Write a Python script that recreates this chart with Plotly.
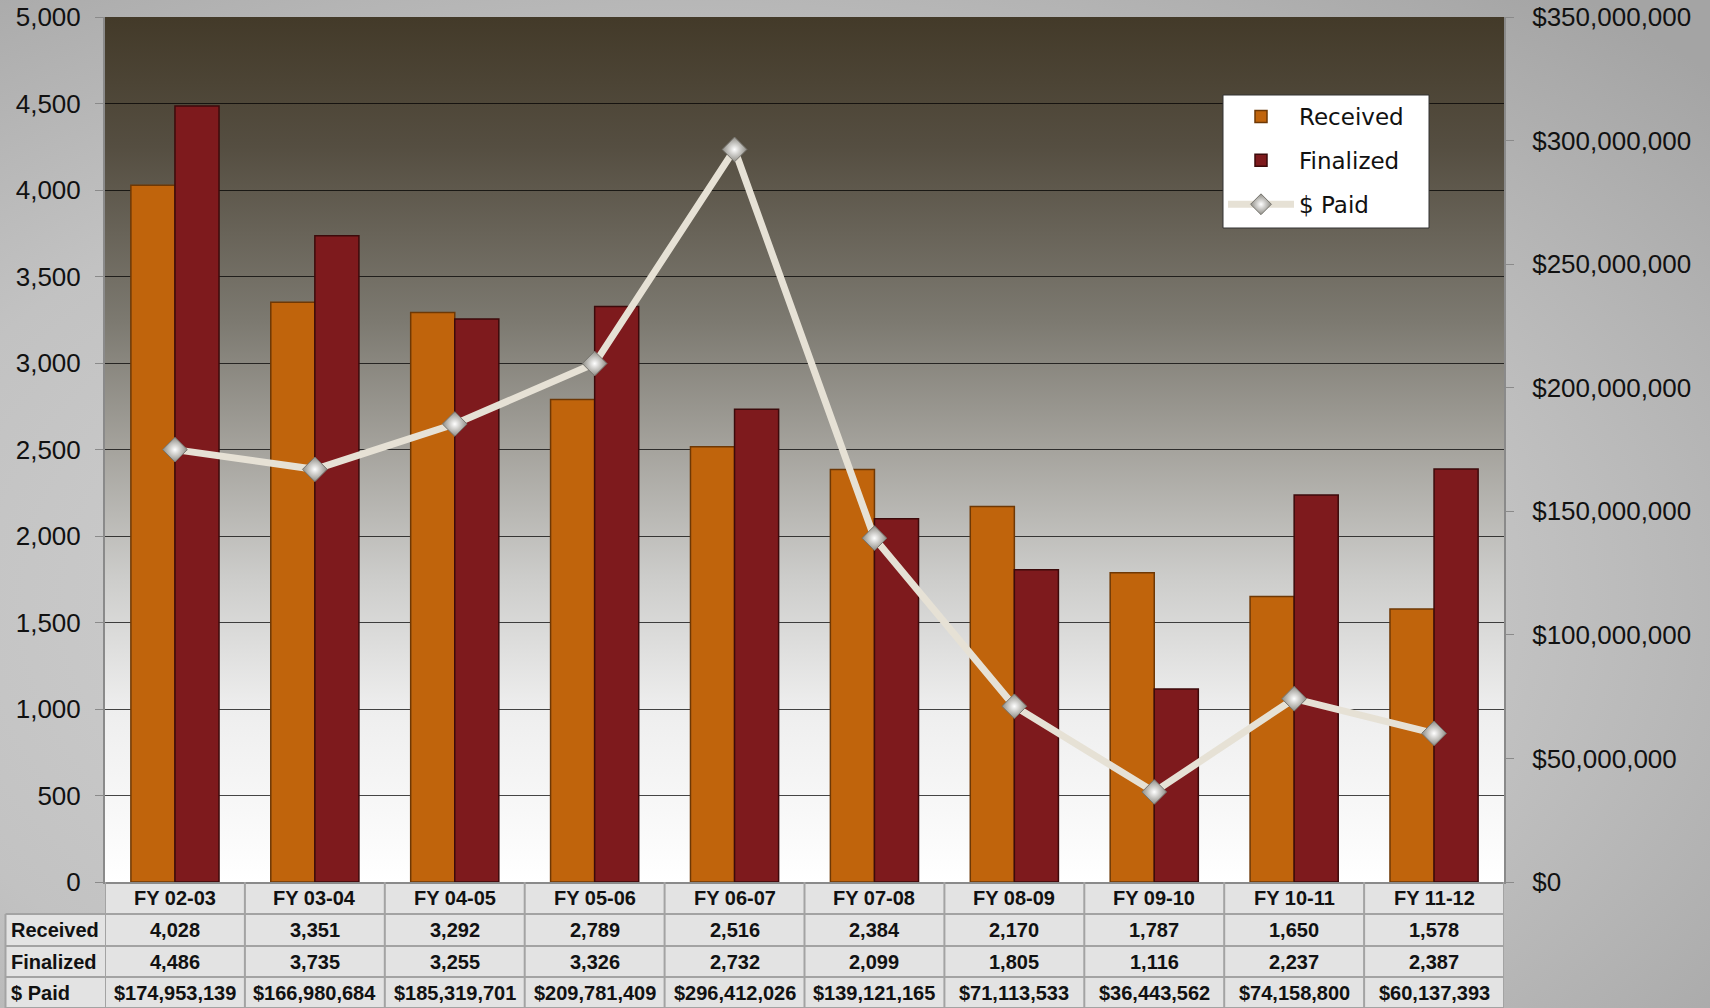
import base64
import plotly.graph_objects as go

categories = ["FY 02-03", "FY 03-04", "FY 04-05", "FY 05-06", "FY 06-07",
              "FY 07-08", "FY 08-09", "FY 09-10", "FY 10-11", "FY 11-12"]
received = [4028, 3351, 3292, 2789, 2516, 2384, 2170, 1787, 1650, 1578]
finalized = [4486, 3735, 3255, 3326, 2732, 2099, 1805, 1116, 2237, 2387]
paid = [174953139, 166980684, 185319701, 209781409, 296412026,
        139121165, 71113533, 36443562, 74158800, 60137393]
row_labels = ["Received", "Finalized", "$ Paid"]

W, H = 1710, 1008
# plot area in pixels (left, right, top, bottom)
PL, PR, PT, PB = 105, 1504, 17, 882
TL = 5.5                              # left edge of the data table
ROWS = [882, 914, 946, 977, 1008]     # table row boundaries (px)
LEG = (1223, 1429, 95, 228)           # legend box (px)


def px(x):
    return x / W


def py(y):
    return 1 - y / H


def svg_uri(svg):
    return "data:image/svg+xml;base64," + base64.b64encode(svg.encode()).decode()


page_bg = svg_uri(
    '<svg xmlns="http://www.w3.org/2000/svg" width="100" height="100" viewBox="0 0 100 100" preserveAspectRatio="none">'
    '<defs><radialGradient id="g" cx="0.4" cy="0.6" r="0.8">'
    '<stop offset="0" stop-color="#d6d6d6"/><stop offset="0.6" stop-color="#c2c2c2"/>'
    '<stop offset="1" stop-color="#a4a4a4"/></radialGradient></defs>'
    '<rect width="100" height="100" fill="url(#g)"/></svg>')

plot_bg = svg_uri(
    '<svg xmlns="http://www.w3.org/2000/svg" width="100" height="100" viewBox="0 0 100 100" preserveAspectRatio="none">'
    '<defs><linearGradient id="g" x1="0" y1="0" x2="0" y2="1">'
    '<stop offset="0" stop-color="#433a29"/><stop offset="0.15" stop-color="#554e41"/>'
    '<stop offset="0.35" stop-color="#7c7970"/><stop offset="0.5" stop-color="#a5a39d"/>'
    '<stop offset="0.65" stop-color="#cdcdcb"/><stop offset="0.8" stop-color="#eeeeee"/>'
    '<stop offset="1" stop-color="#ffffff"/></linearGradient></defs>'
    '<rect width="100" height="100" fill="url(#g)"/></svg>')

fig = go.Figure()

fig.add_trace(go.Bar(
    x=categories, y=received, name="Received", legendgroup="a",
    marker=dict(color="#c0640c", line=dict(color="#6e3805", width=1.5)),
))
fig.add_trace(go.Bar(
    x=categories, y=finalized, name="Finalized", legendgroup="b",
    marker=dict(color="#7e1a1d", line=dict(color="#3c0a0b", width=1.5)),
))
fig.add_trace(go.Scatter(
    x=categories, y=paid, name="$ Paid", yaxis="y2", legendgroup="c",
    mode="lines+markers",
    line=dict(color="#e6e1d5", width=7),
    marker=dict(symbol="diamond", size=19, color="#8e8c85",
                gradient=dict(type="radial", color="#ffffff"),
                line=dict(color="#77756f", width=1)),
))

# data table under the chart: cell fills and grid lines
grid = "#a3a3a3"
cell = "#e3e3e3"
shapes = [
    dict(type="rect", xref="paper", yref="paper", layer="below",
         x0=px(PL), x1=px(PR), y0=py(ROWS[0]), y1=py(ROWS[1]),
         fillcolor=cell, line=dict(width=0)),
    dict(type="rect", xref="paper", yref="paper", layer="below",
         x0=px(TL), x1=px(PR), y0=py(ROWS[1]), y1=py(ROWS[-1]),
         fillcolor=cell, line=dict(width=0)),
    dict(type="line", xref="paper", yref="paper", x0=px(TL), x1=px(TL),
         y0=py(ROWS[1]), y1=py(ROWS[-1]), line=dict(color=grid, width=2)),
    # legend box
    dict(type="rect", xref="paper", yref="paper", layer="above",
         x0=px(LEG[0]), x1=px(LEG[1]), y0=py(LEG[3]), y1=py(LEG[2]),
         fillcolor="#ffffff", line=dict(color="#333333", width=1)),
]
for r in ROWS[1:]:
    shapes.append(dict(type="line", xref="paper", yref="paper",
                       x0=px(TL), x1=px(PR), y0=py(r), y1=py(r),
                       line=dict(color=grid, width=2)))
n = len(categories)
for k in range(n + 1):
    shapes.append(dict(type="line", xref="x", yref="paper",
                       x0=k - 0.5, x1=k - 0.5, y0=py(ROWS[0]), y1=py(ROWS[-1]),
                       line=dict(color=grid, width=2)))

cellfont = dict(family="Liberation Sans, Arial", size=20, color="#111111")
annotations = []
for i, c in enumerate(categories):
    cols = [c, f"{received[i]:,}", f"{finalized[i]:,}", f"${paid[i]:,}"]
    for j, t in enumerate(cols):
        annotations.append(dict(
            xref="x", yref="paper", x=c, y=py((ROWS[j] + ROWS[j + 1]) / 2),
            text=f"<b>{t}</b>", showarrow=False, font=cellfont,
            xanchor="center", yanchor="middle"))
for j, lab in enumerate(row_labels):
    annotations.append(dict(
        xref="paper", yref="paper", x=px(9), y=py((ROWS[j + 1] + ROWS[j + 2]) / 2),
        text=f"<b>{lab}</b>", showarrow=False, font=cellfont,
        xanchor="left", yanchor="middle"))

tickfont = dict(family="Liberation Sans, Arial", size=26, color="#111111")
fig.update_layout(
    width=W, height=H,
    margin=dict(l=0, r=0, t=0, b=0),
    paper_bgcolor="#bebebe",
    plot_bgcolor="rgba(0,0,0,0)",
    barmode="group", bargap=0.37, bargroupgap=0,
    showlegend=True,
    legend=dict(x=px(LEG[0]), y=py(LEG[2]), xanchor="left", yanchor="top",
                bgcolor="rgba(0,0,0,0)", borderwidth=0,
                font=dict(family="DejaVu Sans", size=23, color="#111111"),
                tracegroupgap=11, itemwidth=66),
    xaxis=dict(domain=[px(PL), px(PR)], range=[-0.5, n - 0.5],
               showticklabels=False, showgrid=False, zeroline=False,
               showline=True, linecolor="#8a8a8a", linewidth=2, ticks=""),
    yaxis=dict(domain=[py(PB), py(PT)], range=[0, 5000], dtick=500,
               tickformat=",", tickfont=tickfont, showgrid=True,
               gridcolor="rgba(0,0,0,0.72)", gridwidth=1.3, zeroline=False,
               showline=True, linecolor="#8a8a8a", linewidth=2,
               ticks="outside", ticklen=8, tickcolor="#8a8a8a",
               ticklabelstandoff=9, automargin=False),
    yaxis2=dict(overlaying="y", side="right", range=[0, 350e6], dtick=50e6,
                tickprefix="$", tickformat=",", tickfont=tickfont,
                showgrid=False, zeroline=False,
                showline=True, linecolor="#8a8a8a", linewidth=2,
                ticks="outside", ticklen=8, tickcolor="#8a8a8a",
                ticklabelstandoff=13, automargin=False),
    shapes=shapes,
    annotations=annotations,
    images=[
        dict(source=page_bg, xref="paper", yref="paper", x=0, y=1,
             sizex=1, sizey=1, xanchor="left", yanchor="top",
             sizing="stretch", layer="below"),
        dict(source=plot_bg, xref="paper", yref="paper", x=px(PL), y=py(PT),
             sizex=(PR - PL) / W, sizey=(PB - PT) / H, xanchor="left", yanchor="top",
             sizing="stretch", layer="below"),
    ],
)

fig.write_html("out.html", config={"displayModeBar": False},
               post_script="document.body.style.margin='0';"
                           "document.body.style.overflow='hidden';")
